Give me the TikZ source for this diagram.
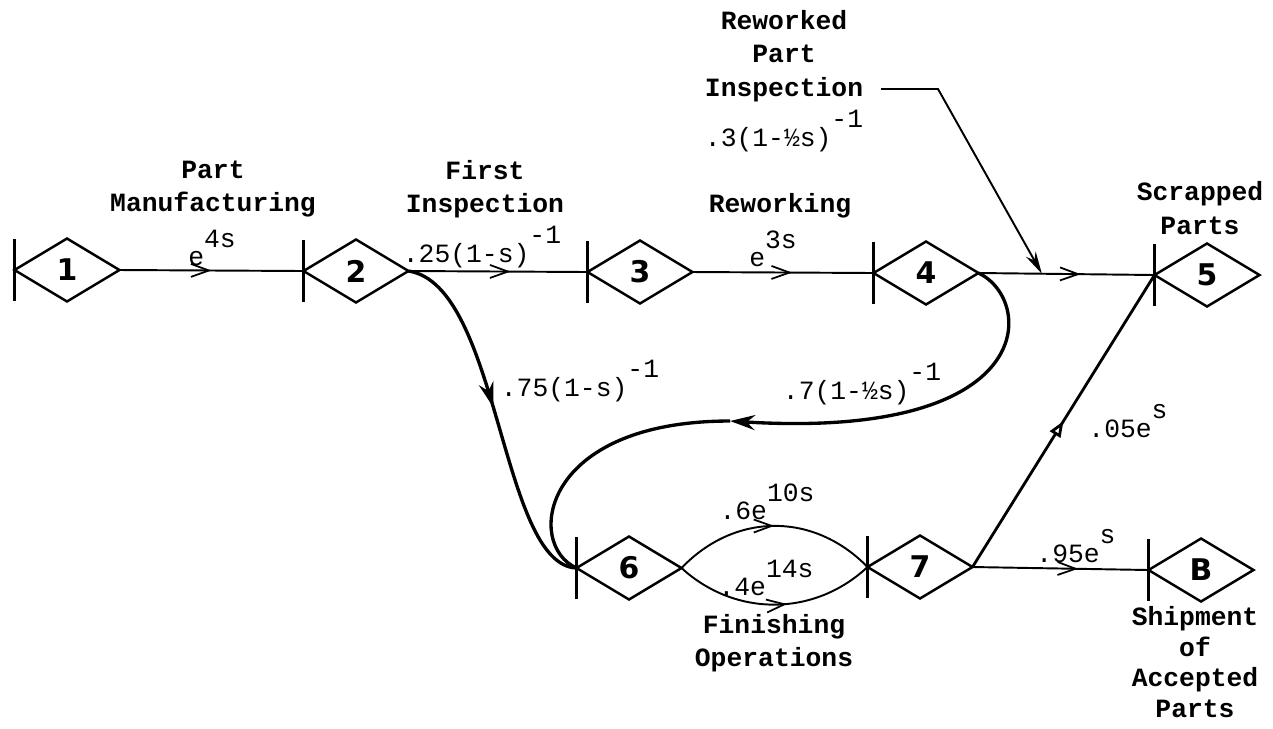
\documentclass[tikz,border=0pt]{standalone}
\usepackage{fontspec}
\setmonofont{Liberation Mono}
\newfontfamily\digitfont{DejaVu Sans}
\usetikzlibrary{positioning,arrows.meta,shapes.geometric,decorations.markings}
\newcommand{\expo}[1]{\raisebox{0.7em}{#1}}

\begin{document}
\begin{tikzpicture}[
    x=0.02cm, y=-0.02cm,
    gert/.style={diamond, draw, line width=1.4pt, minimum width=2.1cm, minimum height=1.26cm, inner sep=0pt, outer sep=0pt, font=\digitfont\bfseries\fontsize{17}{17}\selectfont},
    bar/.style={line width=1.4pt},
    title/.style={align=center, inner sep=1pt, font=\ttfamily\bfseries\fontsize{15}{19}\selectfont},
    gain/.style={inner sep=1pt, font=\ttfamily\fontsize{15}{18}\selectfont},
    flow/.style={line width=1.1pt, postaction={decorate}, decoration={markings, mark=at position #1 with {\arrow{Straight Barb[length=3.6mm, width=2.6mm, line width=1pt]}}}},
    flow/.default=0.55,
    heavy/.style={line width=1.9pt},
    heavyflow/.style={heavy, postaction={decorate}, decoration={markings, mark=at position #1 with {\arrow{Stealth[length=5mm, width=3mm]}}}},
    tri/.style={line width=1.6pt, postaction={decorate}, decoration={markings, mark=at position 0.5 with {\arrow{Triangle[open, fill=white, length=3.2mm, width=2.4mm]}}}}]
\useasboundingbox (0,0) rectangle (1273,728);
\node[gert] (n1) at (67,270) {1};
\node[gert] (n2) at (356,271) {2};
\node[gert] (n3) at (640,272) {3};
\node[gert] (n4) at (926,273) {4};
\node[gert] (n5) at (1207,275) {5};
\node[gert] (n6) at (629,568) {6};
\node[gert] (n7) at (920,567) {7};
\node[gert] (n8) at (1201,570) {B};
\foreach \n in {1,...,8}
  \draw[bar] (n\n.west) ++(0,-31) -- ++(0,62);
\coordinate (back) at (730,421);
\coordinate (kink) at (938,89);
\draw[flow=0.5] (n1.east) -- (n2.west);
\draw[flow=0.57] (n2.east) -- (n3.west);
\draw[flow] (n3.east) -- (n4.west);
\draw[flow=0.58] (n4.east) -- coordinate[pos=0.36] (hit) (n5.west);
\draw[heavyflow=0.47] (n2.east) .. controls (500,285) and (500,565) .. (n6.west);
\draw[heavy, -{Stealth[length=5mm, width=3mm]}] (n4.east) .. controls (1035,300) and (1040,440) .. (back);
\draw[heavy] (back) .. controls (540,421) and (525,545) .. (n6.west);
\draw[flow=0.5] (n6.east) .. controls (735,512) and (814,512) .. (n7.west);
\draw[flow=0.56] (n6.east) .. controls (735,617) and (814,617) .. (n7.west);
\draw[tri] (n7.east) -- (n5.west);
\draw[flow=0.6] (n7.east) -- (n8.west);
\node[title] (t12) at (213,189) {Part\\Manufacturing};
\node[title] (t23) at (485,189) {First\\Inspection};
\node[title] (t34) at (780,206) {Reworking};
\node[title] (rpi) at (784,56) {Reworked\\Part\\Inspection};
\node[title] (t5) at (1200,208) {Scrapped\\Parts};
\node[title] (t67) at (774,643) {Finishing\\Operations};
\node[title, font=\ttfamily\bfseries\fontsize{15}{17.5}\selectfont] (t8) at (1195,662) {Shipment\\of\\Accepted\\Parts};
\draw[line width=1.1pt, -{Stealth[length=4.5mm, width=2.2mm]}] (rpi.east |- kink) ++(16,0) -- (kink) -- (hit);
\node[gain] (g12) at (212,248) {e\expo{4s}};
\node[gain] (g23) at (482,247) {.25(1-s)\expo{-1}};
\node[gain] (g34) at (773,249) {e\expo{3s}};
\node[gain] (g45) at (784,131) {.3(1-½s)\expo{-1}};
\node[gain] (g26) at (580,381) {.75(1-s)\expo{-1}};
\node[gain] (g46) at (862,384) {.7(1-½s)\expo{-1}};
\node[gain] (g67a) at (767,502) {.6e\expo{10s}};
\node[gain] (g67b) at (766,578) {.4e\expo{14s}};
\node[gain] (g75) at (1128,421) {.05e\expo{s}};
\node[gain] (g78) at (1076,546) {.95e\expo{s}};
\end{tikzpicture}
\end{document}
